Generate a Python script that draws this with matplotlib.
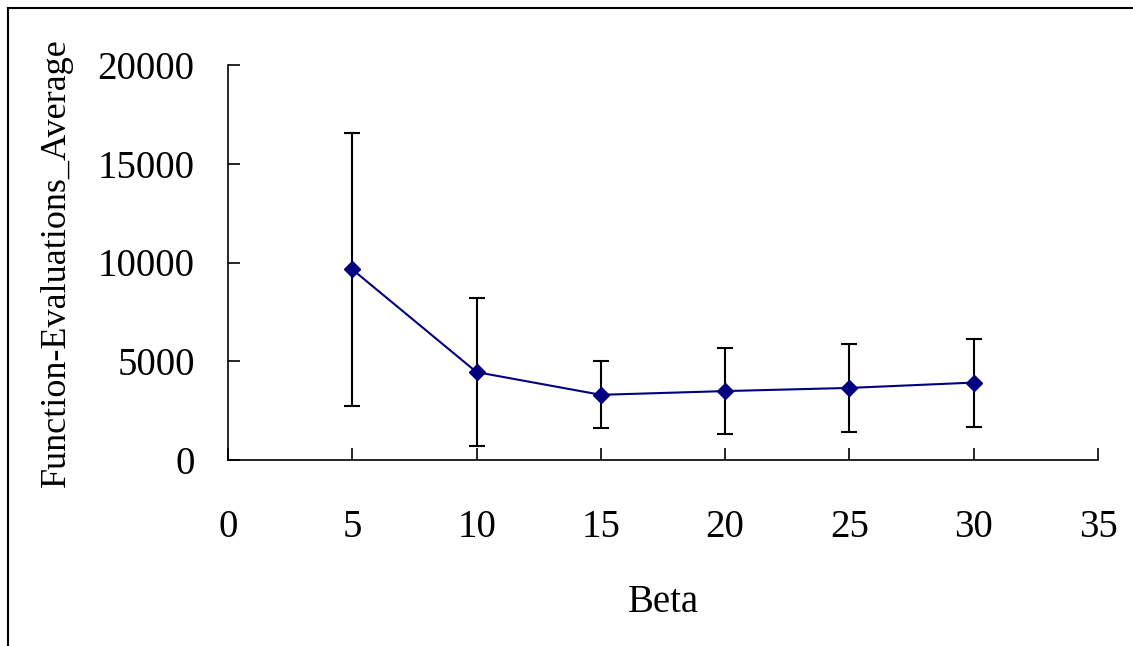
import numpy as np
import matplotlib.pyplot as plt
from matplotlib.lines import Line2D

beta = [5, 10, 15, 20, 25, 30]
fe_avg = [9650, 4450, 3300, 3490, 3650, 3920]
fe_err = [6900, 3750, 1700, 2180, 2230, 2230]

plt.rcParams['font.family'] = ['Liberation Serif', 'DejaVu Serif']

fig = plt.figure(figsize=(11.33, 6.46), dpi=100)
ax = fig.add_axes([228/1133, 1-460/646, 870/1133, 395/646])

ax.errorbar(beta, fe_avg, yerr=fe_err, fmt='none', ecolor='black',
            elinewidth=1.5, capsize=6, capthick=1.5, zorder=2)
ax.plot(beta, fe_avg, color='#000080', lw=1.5, marker='D', markersize=8,
        zorder=3)

ax.set_xlim(0, 35)
ax.set_ylim(0, 20000)
ax.set_xticks(np.arange(0, 36, 5))
ax.set_yticks(np.arange(0, 20001, 5000))
for s in ['top', 'right']:
    ax.spines[s].set_visible(False)
for s in ['left', 'bottom']:
    ax.spines[s].set_linewidth(1.2)
ax.tick_params(axis='x', direction='in', length=8.5, width=1.2, pad=35, labelsize=28)
ax.tick_params(axis='y', direction='in', length=8.5, width=1.2, pad=24, labelsize=28)
ax.set_xlabel('Beta', fontsize=28, labelpad=28)
ax.set_ylabel('Function-Evaluations_Average', fontsize=26, labelpad=18)

# outer chart border (left and top)
fig.add_artist(Line2D([8/1133, 8/1133], [0, 1-8/646], color='black', lw=1.5,
                      transform=fig.transFigure))
fig.add_artist(Line2D([8/1133, 1], [1-8/646, 1-8/646], color='black', lw=1.5,
                      transform=fig.transFigure))

fig.savefig('out.png', dpi=100)
